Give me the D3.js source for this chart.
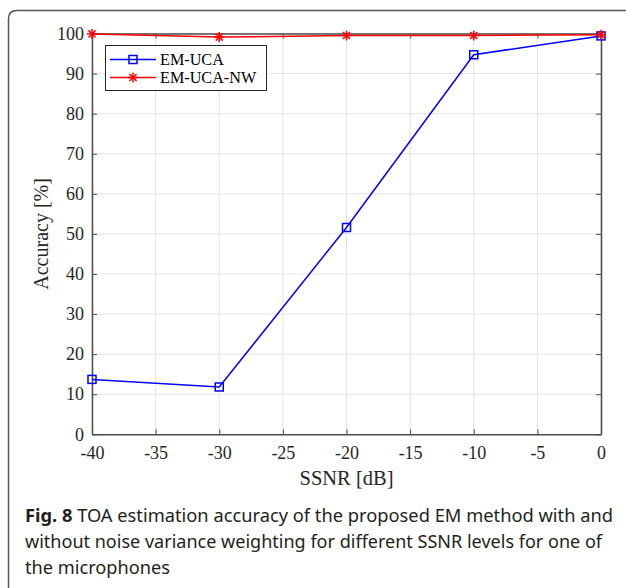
<!DOCTYPE html>
<html>
<head>
<meta charset="utf-8">
<script src="https://cdn.jsdelivr.net/npm/d3@7"></script>
<style>
  body { margin: 0; background: #fff; }
</style>
</head>
<body>
<svg id="canvas"></svg>
<script>
const ssnr = [-40, -30, -20, -10, 0];
const emUca = [13.7, 11.8, 51.6, 94.7, 99.4];
const emUcaNw = [99.9, 99.1, 99.5, 99.5, 99.7];
const xTicks = [-40, -35, -30, -25, -20, -15, -10, -5, 0];
const yTicks = [0, 10, 20, 30, 40, 50, 60, 70, 80, 90, 100];
const captionLines = [
  ["Fig. 8", " TOA estimation accuracy of the proposed EM method with and"],
  ["", "without noise variance weighting for different SSNR levels for one of"],
  ["", "the microphones"]
];

const width = 626;
const height = 588;
const plotLeft = 92, plotRight = 601, plotTop = 33.5, plotBottom = 434.3;

const canvas = d3.select("#canvas").attr("width", width).attr("height", height);

// figure frame (cut off on the right and bottom)
canvas.append("path")
  .attr("d", "M8.5,600 L8.5,19 Q8.5,10.5 17,10.5 L640,10.5")
  .attr("fill", "none")
  .attr("stroke", "#555")
  .attr("stroke-width", 1.5);

const xScale = d3.scaleLinear().domain([-40, 0]).range([plotLeft, plotRight]);
const yScale = d3.scaleLinear().domain([0, 100]).range([plotBottom, plotTop]);

// grid
canvas.append("g").selectAll("line").data(xTicks).enter().append("line")
  .attr("x1", (d) => xScale(d)).attr("x2", (d) => xScale(d))
  .attr("y1", plotTop).attr("y2", plotBottom)
  .attr("stroke", "#e3e3e3").attr("stroke-width", 1);
canvas.append("g").selectAll("line").data(yTicks).enter().append("line")
  .attr("x1", plotLeft).attr("x2", plotRight)
  .attr("y1", (d) => yScale(d)).attr("y2", (d) => yScale(d))
  .attr("stroke", "#e3e3e3").attr("stroke-width", 1);

const axisColor = "#4d4d4d";
const tick = 5;
const plain = (d) => String(d);

const xAxis = d3.axisBottom(xScale).tickValues(xTicks).tickFormat(plain).tickSizeInner(-tick).tickSizeOuter(0).tickPadding(12);
const yAxis = d3.axisLeft(yScale).tickValues(yTicks).tickFormat(plain).tickSizeInner(-tick).tickSizeOuter(0).tickPadding(8);
const xTop = d3.axisTop(xScale).tickValues(xTicks).tickSizeInner(-tick).tickSizeOuter(0).tickFormat("");
const yRight = d3.axisRight(yScale).tickValues(yTicks).tickSizeInner(-tick).tickSizeOuter(0).tickFormat("");

const styleAxis = (g) => {
  g.selectAll("path").attr("stroke", axisColor).attr("stroke-width", 1.5);
  g.selectAll("line").attr("stroke", axisColor).attr("stroke-width", 1);
  g.selectAll("text")
    .attr("fill", "#262626")
    .style("font-family", "'Liberation Serif', 'Times New Roman', serif")
    .style("font-size", "18px");
};

canvas.append("g").attr("transform", `translate(0, ${plotBottom})`).call(xAxis).call(styleAxis);
canvas.append("g").attr("transform", `translate(${plotLeft}, 0)`).call(yAxis).call(styleAxis);
canvas.append("g").attr("transform", `translate(0, ${plotTop})`).call(xTop).call(styleAxis);
canvas.append("g").attr("transform", `translate(${plotRight}, 0)`).call(yRight).call(styleAxis);

// axis labels
canvas.append("text")
  .attr("x", xScale(-20)).attr("y", 485)
  .attr("text-anchor", "middle")
  .style("font-family", "'Liberation Serif', 'Times New Roman', serif")
  .style("font-size", "20.5px").attr("fill", "#262626")
  .text("SSNR [dB]");
canvas.append("text")
  .attr("transform", `translate(48, ${yScale(50)}) rotate(-90)`)
  .attr("text-anchor", "middle")
  .style("font-family", "'Liberation Serif', 'Times New Roman', serif")
  .style("font-size", "20px").attr("fill", "#262626")
  .text("Accuracy [%]");

// lines
const line = d3.line().x((d, i) => xScale(ssnr[i])).y((d) => yScale(d));

const drawSquare = (g, x, y) => {
  g.append("rect").attr("x", x - 4).attr("y", y - 4).attr("width", 8).attr("height", 8)
    .attr("fill", "none").attr("stroke", "#0000ff").attr("stroke-width", 1.5);
};
const drawStar = (g, x, y) => {
  const r = 5;
  const angles = [0, 45, 90, 135];
  angles.forEach((a) => {
    const rad = (a * Math.PI) / 180;
    g.append("line")
      .attr("x1", x - r * Math.cos(rad)).attr("y1", y - r * Math.sin(rad))
      .attr("x2", x + r * Math.cos(rad)).attr("y2", y + r * Math.sin(rad))
      .attr("stroke", "#ff0000").attr("stroke-width", 1.5);
  });
};

canvas.append("path").datum(emUca).attr("d", line)
  .attr("fill", "none").attr("stroke", "#0000ff").attr("stroke-width", 1.5);
const blueMarks = canvas.append("g");
emUca.forEach((d, i) => drawSquare(blueMarks, xScale(ssnr[i]), yScale(d)));

canvas.append("path").datum(emUcaNw).attr("d", line)
  .attr("fill", "none").attr("stroke", "#ff0000").attr("stroke-width", 1.5);
const redMarks = canvas.append("g");
emUcaNw.forEach((d, i) => drawStar(redMarks, xScale(ssnr[i]), yScale(d)));

// legend
const legend = canvas.append("g");
legend.append("rect")
  .attr("x", 105.5).attr("y", 45.5).attr("width", 161).attr("height", 45)
  .attr("fill", "#fff").attr("stroke", "#262626").attr("stroke-width", 1);
const legendItems = [
  { name: "EM-UCA", color: "#0000ff", marker: drawSquare, y: 59.5 },
  { name: "EM-UCA-NW", color: "#ff0000", marker: drawStar, y: 77.5 }
];
legendItems.forEach((d) => {
  legend.append("line").attr("x1", 110).attr("x2", 156).attr("y1", d.y).attr("y2", d.y)
    .attr("stroke", d.color).attr("stroke-width", 1.5);
  d.marker(legend, 133, d.y);
  legend.append("text").attr("x", 160).attr("y", d.y + 5.5)
    .style("font-family", "'Liberation Serif', 'Times New Roman', serif")
    .style("font-size", "16.2px").attr("fill", "#000")
    .text(d.name);
});

// caption
const caption = canvas.append("g");
const lineWidths = [588, 577, 145];
captionLines.forEach((d, i) => {
  const t = caption.append("text")
    .attr("x", 25).attr("y", 522 + i * 26)
    .attr("textLength", lineWidths[i]).attr("lengthAdjust", "spacingAndGlyphs")
    .style("font-family", "'Noto Sans', 'Open Sans', sans-serif")
    .style("font-size", "17.5px").attr("fill", "#231f20");
  if (d[0]) t.append("tspan").style("font-weight", "bold").text(d[0]);
  t.append("tspan").text(d[1]);
});
</script>
</body>
</html>
